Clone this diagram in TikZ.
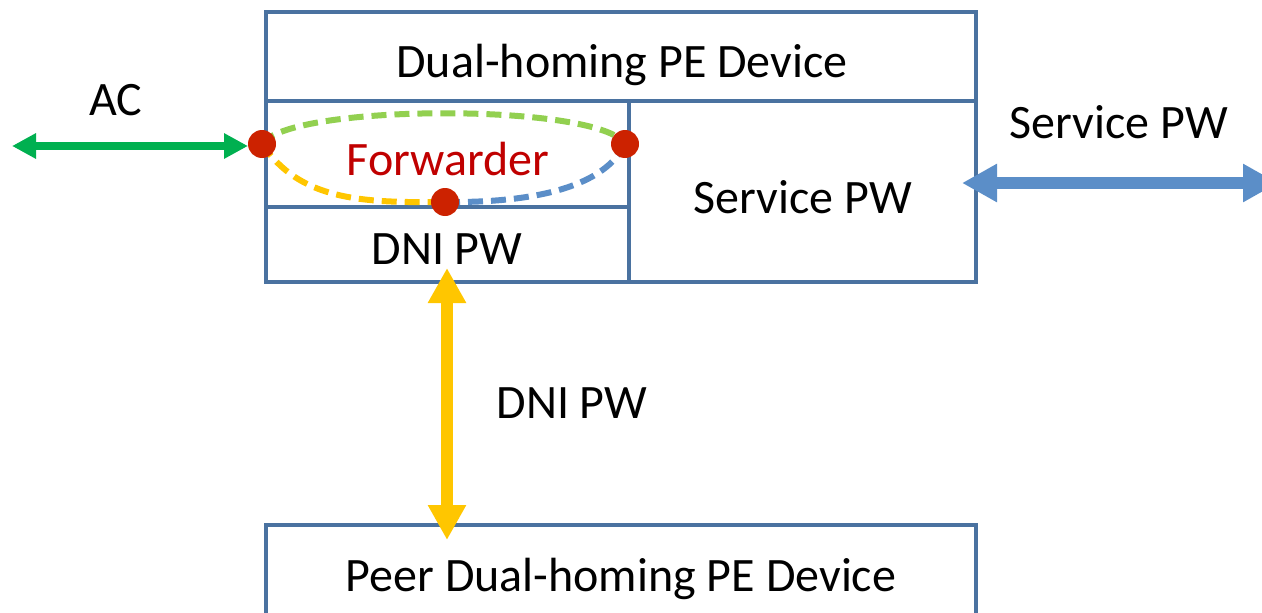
\documentclass[tikz,border=0pt]{standalone}
\usepackage{fontspec}
\setmainfont{Carlito}
\usetikzlibrary{arrows.meta}
\definecolor{boxline}{HTML}{4A72A0}
\definecolor{acgreen}{HTML}{00B050}
\definecolor{pwblue}{HTML}{5B8EC8}
\definecolor{dniyellow}{HTML}{FFC600}
\definecolor{lightgreen}{HTML}{92D050}
\definecolor{dotred}{HTML}{CC2200}
\definecolor{fwdred}{HTML}{C00000}
\begin{document}
\begin{tikzpicture}[x=1pt,y=-1pt,
  boxpen/.style={draw=boxline,line width=4pt},
  lbl/.style={anchor=base,inner sep=0pt,font=\fontsize{48}{58}\selectfont},
  dot/.style={circle,fill=dotred,minimum size=28pt,inner sep=0pt},
  dashseg/.style={line width=6pt,dash pattern=on 15pt off 8pt},
  fatarrow/.style={line width=12pt,{Triangle[length=35pt,width=36pt]}-{Triangle[length=35pt,width=36pt]}}
]
\useasboundingbox (0,0) rectangle (1262,613);
% main device box
\draw[boxpen] (266,12) rectangle (976,282);
\draw[boxpen] (266,101) -- (976,101);
\draw[boxpen] (629,101) -- (629,282);
\draw[boxpen] (266,207) -- (629,207);
% peer box
\draw[boxpen] (266,625) -- (266,525) -- (976,525) -- (976,625);

% labels
\node[lbl] (title) at (622,77) {Dual-homing PE Device};
\node[lbl] (ac) at (116,115) {AC};
\node[lbl,text=fwdred] (fwd) at (448,175) {Forwarder};
\node[lbl] (dniin) at (447,264) {DNI PW};
\node[lbl] (spwin) at (803,213) {Service PW};
\node[lbl] (spwout) at (1119,138) {Service PW};
\node[lbl] (dniout) at (572,418) {DNI PW};
\node[lbl] (peer) at (621,591) {Peer Dual-homing PE Device};

% forwarder ports
\coordinate (pl) at (262,144);
\coordinate (pr) at (625,144);
\coordinate (pb) at (445,202);
\draw[dashseg,draw=lightgreen] (pl) .. controls (290,103) and (600,103) .. (pr);
\draw[dashseg,draw=dniyellow] (pl) .. controls (300,200) and (360,203) .. (pb);
\draw[dashseg,draw=pwblue] (pb) .. controls (540,203) and (605,185) .. (pr);

% arrows
\coordinate (acend) at (12,146);
\coordinate (acdev) at (248,146);
\draw[line width=8pt,draw=acgreen,{Triangle[length=24pt,width=24pt]}-{Triangle[length=24pt,width=24pt]}] (acend) -- (acdev);
\coordinate (spdev) at (962,183);
\coordinate (spend) at (1278,183);
\draw[fatarrow,draw=pwblue] (spdev) -- (spend);
\coordinate (dnitop) at (447,268);
\coordinate (dnibot) at (447,540);
\draw[fatarrow,draw=dniyellow] (dnitop) -- (dnibot);

\node[dot] (dl) at (pl) {};
\node[dot] (dr) at (pr) {};
\node[dot] (db) at (pb) {};
\end{tikzpicture}
\end{document}
